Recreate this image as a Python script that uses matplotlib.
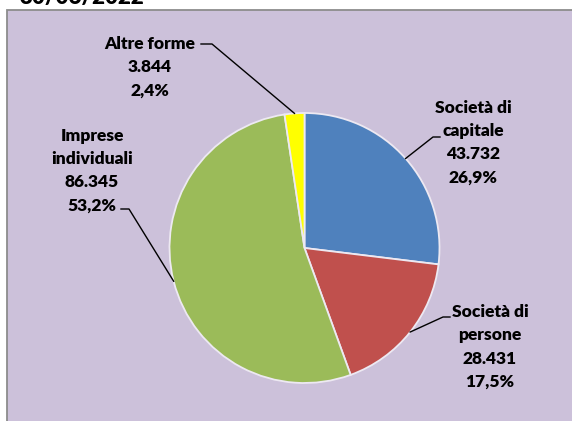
import matplotlib
matplotlib.use("Agg")
import matplotlib.pyplot as plt
import numpy as np
from matplotlib.patches import Rectangle

# dati: imprese per forma giuridica al 30/06/2022
categorie = ["Società di\ncapitale", "Società di\npersone", "Imprese\nindividuali", "Altre forme"]
valori = [43732, 28431, 86345, 3844]
quote = ["26,9%", "17,5%", "53,2%", "2,4%"]
etichette_valori = ["43.732", "28.431", "86.345", "3.844"]
colori = ["#4F81BD", "#C0504D", "#9BBB59", "#FFFF00"]

W, H = 572, 421
plt.rcParams["font.family"] = ["Lato", "DejaVu Sans"]

fig = plt.figure(figsize=(W / 100, H / 100), dpi=100)
ax = fig.add_axes([0, 0, 1, 1])


def py(y):
    # coordinate in pixel dall'alto -> coordinate dati
    return H - y


# sfondo area grafico
ax.add_patch(Rectangle((7, -10), W + 30, py(10) + 10, facecolor="#CCC1DA",
                       edgecolor="#8C8C8C", linewidth=1.3, zorder=0))

cx, cy, r = 304.5, py(248), 135
wedges, _ = ax.pie(valori, colors=colori, startangle=90, counterclock=False,
                   center=(cx, cy), radius=r, frame=True,
                   wedgeprops=dict(edgecolor="#EDE9F2", linewidth=1.3))

ax.set_xlim(0, W)
ax.set_ylim(0, H)
ax.set_aspect("equal")
ax.axis("off")

# posizioni etichette (centro testo) e gomiti delle linee guida, in pixel
pos_testo = [(473, 142.5), (490, 347), (92, 170.5), (150, 67.5)]
gomiti = [((433, 137), (440, 137)),
          ((443, 317), (450, 317)),
          ((129, 209), (121, 209)),
          ((212, 44), (201, 44))]

for w, cat, ev, q, (tx, ty), (g1, g2) in zip(wedges, categorie, etichette_valori,
                                               quote, pos_testo, gomiti):
    ang = np.deg2rad((w.theta1 + w.theta2) / 2)
    ex, ey = cx + r * np.cos(ang), cy + r * np.sin(ang)
    ax.plot([ex, g1[0], g2[0]], [ey, py(g1[1]), py(g2[1])],
            color="black", linewidth=1, zorder=5)
    ax.text(tx, py(ty), f"{cat}\n{ev}\n{q}", ha="center", va="center",
            fontsize=12.5, fontweight="heavy", linespacing=1.55, color="black")

# titolo tagliato in alto
ax.text(20, py(4), "30/06/2022", ha="left", va="baseline", fontsize=16,
        fontweight="heavy", color="black")

fig.savefig("out.png", dpi=100)
